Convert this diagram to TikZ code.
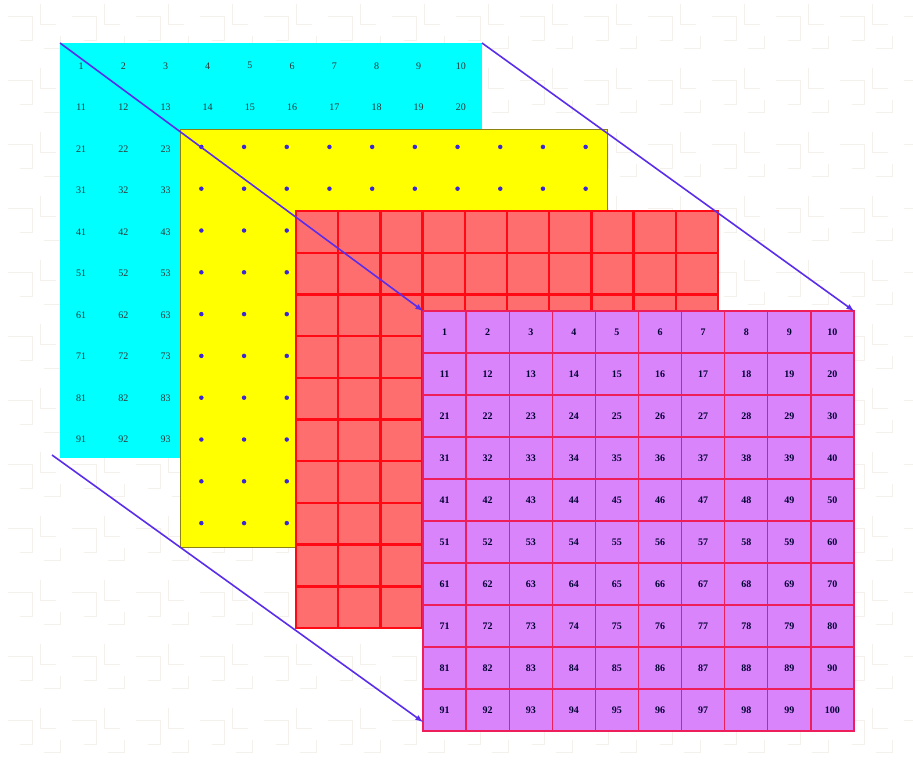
\documentclass[tikz,border=0pt]{standalone}
\usepackage{fontspec}
\setmainfont{Liberation Serif}
\definecolor{cyanfill}{RGB}{0,255,255}
\definecolor{yellowfill}{RGB}{255,255,0}
\definecolor{yellowedge}{RGB}{140,130,20}
\definecolor{redfill}{RGB}{255,110,110}
\definecolor{redline}{RGB}{255,10,20}
\definecolor{purplefill}{RGB}{218,132,252}
\definecolor{purpleline}{RGB}{238,30,90}
\definecolor{arrowblue}{RGB}{90,45,235}
\definecolor{dotblue}{RGB}{60,40,210}
\definecolor{bgline}{RGB}{244,241,236}
\tikzset{
  panel/.style={anchor=north west, inner sep=0pt, outer sep=0pt},
  cyannum/.style={font=\fontsize{10}{11}\selectfont, text=black!80, inner sep=0pt},
  ydot/.style={circle, fill=dotblue, inner sep=0pt, minimum size=4.5pt},
  redcell/.style={fill=redfill, inner sep=0pt, outer sep=0pt,
    minimum width=42.2pt, minimum height=41.7pt},
  rededge/.style={draw=redline, line width=2.4pt},
  purplecell/.style={fill=purplefill, inner sep=0pt, outer sep=0pt,
    minimum width=43.1pt, minimum height=42pt, text=black!80!blue,
    font=\fontsize{10}{11}\selectfont\bfseries},
  purpleedge/.style={draw=purpleline, line width=1.3pt},
  link/.style={draw=arrowblue, line width=1.6pt, -latex},
  tile/.style={draw=bgline, line width=1pt}
}
\begin{document}
\begin{tikzpicture}[x=1pt, y=-1pt]
  \useasboundingbox (0,0) rectangle (913,769);
  % faint background
  \foreach \x in {0,64,...,896}
    \foreach \y in {0,64,...,768} {
      \draw[tile] (\x+8,\y+16) -- ++(24,0) -- ++(0,24) -- ++(-12,0);
      \draw[tile] (\x+40,\y+4) -- ++(0,20) -- ++(16,0);
      \draw[tile] (\x+44,\y+48) -- ++(16,0) -- ++(0,-12);
    }
  % cyan layer
  \node[panel, fill=cyanfill, minimum width=422pt, minimum height=415pt] (cyanpanel) at (60,43) {};
  \foreach \r in {0,...,9}
    \foreach \c in {0,...,9} {
      \pgfmathtruncatemacro{\k}{10*\r+\c+1}
      \node[cyannum] (c\k) at ({60+42.2*(\c+0.5)},{45+41.5*(\r+0.5)}) {\k};
    }
  % yellow layer
  \node[panel, fill=yellowfill, draw=yellowedge, line width=0.8pt,
    minimum width=427pt, minimum height=418pt] (yellowpanel) at (180,129) {};
  \foreach \r in {0,...,9}
    \foreach \c in {0,...,9} {
      \pgfmathtruncatemacro{\k}{10*\r+\c+1}
      \node[ydot] (y\k) at ({180+42.7*(\c+0.5)},{126+41.8*(\r+0.5)}) {};
    }
  % red layer
  \foreach \r in {0,...,9}
    \foreach \c in {0,...,9} {
      \pgfmathtruncatemacro{\k}{10*\r+\c+1}
      \node[redcell] (r\k) at ({296+42.2*(\c+0.5)},{211+41.7*(\r+0.5)}) {};
    }
  \foreach \k in {1,...,100}
    \draw[rededge] (r\k.north west) rectangle (r\k.south east);
  % purple layer
  \foreach \r in {0,...,9}
    \foreach \c in {0,...,9} {
      \pgfmathtruncatemacro{\k}{10*\r+\c+1}
      \node[purplecell] (p\k) at ({423+43.1*(\c+0.5)},{311+42*(\r+0.5)}) {\k};
    }
  \foreach \k in {1,...,100}
    \draw[purpleedge] (p\k.north west) rectangle (p\k.south east);
  % arrows
  \coordinate (bltail) at (52,455);
  \coordinate (blhead) at (423,722);
  \draw[link] (cyanpanel.north west) -- (p1.north west);
  \draw[link] (cyanpanel.north east) -- (p10.north east);
  \draw[link] (bltail) -- (blhead);
\end{tikzpicture}
\end{document}
